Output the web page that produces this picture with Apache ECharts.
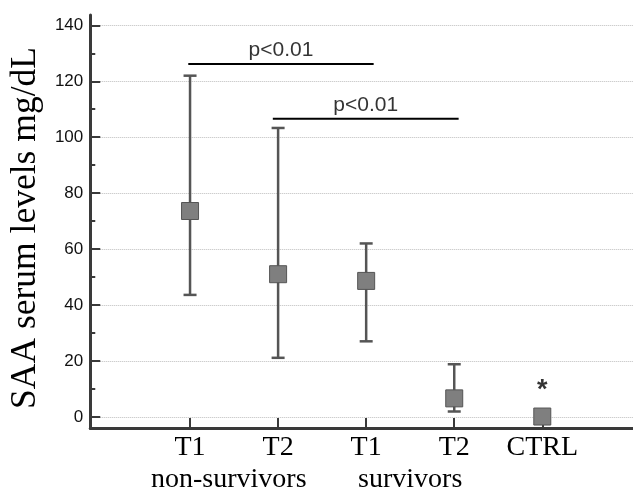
<!DOCTYPE html>
<html>
<head>
<meta charset="utf-8">
<script src="https://cdn.jsdelivr.net/npm/echarts@6/dist/echarts.min.js"></script>
<style>
html,body{margin:0;padding:0;background:#fff;}
#chart{width:633px;height:494px;}
</style>
</head>
<body>
<div id="chart"></div>
<script>
// ---- data ----
const categories = ['T1', 'T2', 'T1', 'T2', 'CTRL'];
const groups = ['non-survivors', 'survivors'];
const groupCenters = [0.44, 2.5];
const means = [73.6, 51.0, 48.6, 6.6, 0.1];
const lows  = [43.6, 21.1, 27.0, 1.9, null];
const highs = [122.0, 103.3, 62.0, 18.8, null];
const yTicks = [0, 20, 40, 60, 80, 100, 120, 140];
const yMinorTicks = [10, 30, 50, 70, 90, 110, 130];
const sigStart = [-0.02, 0.94];
const sigEnd = [2.085, 3.05];
const sigLevel = [126.2, 106.6];
const sigText = ['p<0.01', 'p<0.01'];
const starX = [4];
const starY = [9.5];

// ---- chart ----
const chart = echarts.init(document.getElementById('chart'));
const sans = 'Liberation Sans, Arial, sans-serif';
const serif = 'Liberation Serif, Times New Roman, serif';
const axisColor = '#3a3a3a';
const X_MIN = -1.133, X_MAX = 5.03, Y_MIN = -4, Y_MAX = 143.7;

const errData = categories.map((c, i) => [i, lows[i], highs[i]]).filter(d => d[1] != null);
const meanData = categories.map((c, i) => [i, means[i]]);

const series = [
  {
    type: 'custom',
    xAxisIndex: 0, yAxisIndex: 0,
    data: errData,
    z: 2,
    renderItem: function (params, api) {
      const x = api.value(0);
      const lo = api.coord([x, api.value(1)]);
      const hi = api.coord([x, api.value(2)]);
      const hw = 6.5;
      const style = { stroke: '#555555', lineWidth: 2.5, fill: null };
      return {
        type: 'group',
        children: [
          { type: 'line', shape: { x1: lo[0], y1: lo[1], x2: hi[0], y2: hi[1] }, style: style },
          { type: 'line', shape: { x1: lo[0] - hw, y1: lo[1], x2: lo[0] + hw, y2: lo[1] }, style: style },
          { type: 'line', shape: { x1: hi[0] - hw, y1: hi[1], x2: hi[0] + hw, y2: hi[1] }, style: style }
        ]
      };
    }
  },
  {
    type: 'scatter',
    xAxisIndex: 0, yAxisIndex: 0,
    data: meanData,
    symbol: 'rect',
    symbolSize: 17,
    z: 3,
    itemStyle: { color: '#7f7f7f', borderColor: '#555555', borderWidth: 1, opacity: 1 },
    emphasis: { disabled: true }
  }
];

sigLevel.forEach((lv, i) => {
  series.push({
    type: 'line',
    xAxisIndex: 0, yAxisIndex: 0,
    data: [[sigStart[i], lv], [sigEnd[i], lv]],
    symbol: 'none',
    lineStyle: { color: '#000', width: 2 },
    z: 4,
    silent: true
  });
});

series.push({
  type: 'scatter',
  xAxisIndex: 0, yAxisIndex: 0,
  data: sigLevel.map((lv, i) => ({ value: [(sigStart[i] + sigEnd[i]) / 2, lv], label: { formatter: sigText[i] } })),
  symbolSize: 0,
  label: { show: true, position: 'top', distance: 3, color: '#000', fontFamily: sans, fontSize: 21 },
  silent: true,
  z: 5
});

series.push({
  type: 'scatter',
  xAxisIndex: 0, yAxisIndex: 0,
  data: starX.map((x, i) => [x, starY[i]]),
  symbolSize: 0,
  label: { show: true, position: 'inside', formatter: '*', color: '#000', fontFamily: sans, fontSize: 27, fontWeight: 'bold' },
  silent: true,
  z: 5
});

chart.setOption({
  animation: false,
  backgroundColor: '#fff',
  grid: { left: 89, right: 0, top: 15, bottom: 64, containLabel: false },
  xAxis: [
    {
      type: 'value', min: X_MIN, max: X_MAX, position: 'bottom',
      axisLine: { show: true, onZero: false, lineStyle: { color: axisColor, width: 3 } },
      axisTick: { show: true, inside: true, length: 10, customValues: categories.map((c, i) => i), lineStyle: { color: axisColor, width: 2 } },
      axisLabel: { show: true, customValues: categories.map((c, i) => i), margin: 6, formatter: v => categories[Math.round(v)], color: '#000', fontFamily: serif, fontSize: 28 },
      splitLine: { show: false }
    },
    {
      type: 'value', min: X_MIN, max: X_MAX, position: 'bottom', offset: 0,
      axisLine: { show: false, onZero: false },
      axisTick: { show: false },
      axisLabel: { show: true, customValues: groupCenters, margin: 38, formatter: v => groups[groupCenters.indexOf(v)], color: '#000', fontFamily: serif, fontSize: 28 },
      splitLine: { show: false }
    }
  ],
  yAxis: [
    {
      type: 'value', min: Y_MIN, max: Y_MAX, position: 'left',
      name: 'SAA serum levels mg/dL', nameLocation: 'middle', nameGap: 44, nameRotate: 90,
      nameTextStyle: { fontFamily: serif, fontSize: 35.5, color: '#000', padding: [0, 13, 0, 0] },
      axisLine: { show: true, onZero: false, lineStyle: { color: axisColor, width: 3 } },
      axisTick: { show: true, inside: true, length: 10, customValues: yTicks, lineStyle: { color: axisColor, width: 2 } },
      axisLabel: { show: true, customValues: yTicks, margin: 7, color: '#111', fontFamily: sans, fontSize: 17 },
      splitLine: { show: true, lineStyle: { type: 'dotted', color: '#bdbdbd', width: 1 } }
    },
    {
      type: 'value', min: Y_MIN, max: Y_MAX, position: 'left', offset: 0,
      axisLine: { show: false, onZero: false },
      axisTick: { show: true, inside: true, length: 5, customValues: yMinorTicks, lineStyle: { color: axisColor, width: 2 } },
      axisLabel: { show: false },
      splitLine: { show: false }
    }
  ],
  series: series
});
</script>
</body>
</html>
